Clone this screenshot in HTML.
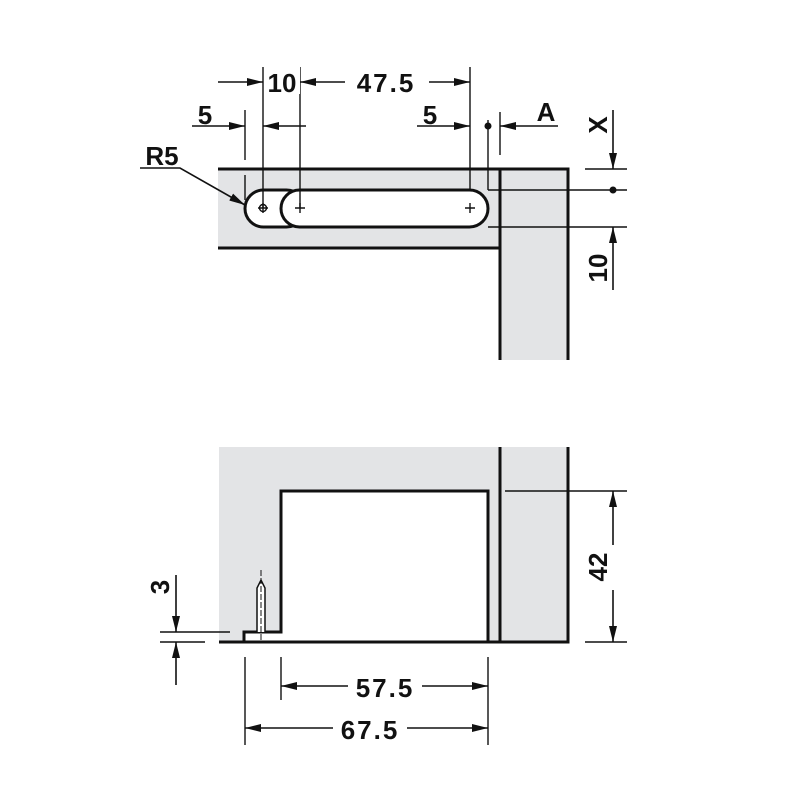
<!DOCTYPE html>
<html><head><style>html,body{margin:0;padding:0;background:#fff}</style></head><body>
<svg width="800" height="800" viewBox="0 0 800 800" xmlns="http://www.w3.org/2000/svg" font-family="Liberation Sans, sans-serif" font-weight="bold">
<defs>
<marker id="a" viewBox="0 0 16 8" refX="16" refY="4" markerWidth="16" markerHeight="8" markerUnits="userSpaceOnUse" orient="auto"><path d="M0,0L16,4L0,8z" fill="#111"/></marker>
</defs>
<g stroke="#111" fill="none">
<rect x="218" y="169" width="282" height="79" fill="#e3e4e6" stroke="none"/>
<rect x="500" y="169" width="68" height="191" fill="#e3e4e6" stroke="none"/>
<path d="M218,169H568V360M500,169V360M218,248H500" stroke-width="3"/>
<rect x="245" y="190" width="60" height="37" rx="18.5" fill="#fff" stroke-width="3"/>
<rect x="281" y="190" width="207" height="37" rx="18.5" fill="#fff" stroke-width="3"/>
<g stroke-width="1.4">
<path d="M263,67V208M300,67V208M470,67V190M245,110V160M245,175V200M488,120V190M500,112V155"/>
<path d="M488,190H627M488,227H627M585,169H627"/>
<path d="M258,208h10M263,203v10M295,208h10M300,203v10M465,208h10M470,203v10"/>
<circle cx="263" cy="208" r="3.5"/>
</g>
<circle cx="488" cy="126" r="3.5" fill="#111" stroke="none"/>
<circle cx="613" cy="190" r="3.5" fill="#111" stroke="none"/>
<g stroke-width="1.6">
<path d="M218,82H263" marker-end="url(#a)"/>
<path d="M345,82H300" marker-end="url(#a)"/>
<path d="M428,82H470" marker-end="url(#a)"/>
<path d="M192,126H245" marker-end="url(#a)"/>
<path d="M306,126H263" marker-end="url(#a)"/>
<path d="M417,126H470" marker-end="url(#a)"/>
<path d="M558,126H500" marker-end="url(#a)"/>
<path d="M613,110V169" marker-end="url(#a)"/>
<path d="M613,290V227" marker-end="url(#a)"/>
<path d="M140,168H180L245,205" marker-end="url(#a)"/>
</g>
<rect x="219" y="447" width="350" height="195" fill="#e3e4e6" stroke="none"/>
<path d="M281,491H488V642H281z" fill="#fff" stroke="none"/>
<rect x="244" y="632" width="38" height="10" fill="#fff" stroke="none"/>
<path d="M219,642H568V447M500,447V642M488,642V491H281V632H244V642" stroke-width="3"/>
<path d="M257,632V588L261,580L265,588V632" fill="#fff" stroke-width="1.5"/>
<path d="M261,570V642" stroke-width="1" stroke-dasharray="6,2"/>
<g stroke-width="1.4">
<path d="M505,491H627M585,642H627M160,632H230M160,642H205"/>
<path d="M281,657V700M488,657V745M245,657V745"/>
</g>
<g stroke-width="1.6">
<path d="M613,545V491" marker-end="url(#a)"/>
<path d="M613,590V642" marker-end="url(#a)"/>
<path d="M176,575V632" marker-end="url(#a)"/>
<path d="M176,685V642" marker-end="url(#a)"/>
<path d="M350,686H281" marker-end="url(#a)"/>
<path d="M420,686H488" marker-end="url(#a)"/>
<path d="M335,728H245" marker-end="url(#a)"/>
<path d="M405,728H488" marker-end="url(#a)"/>
</g>
</g>
<g font-size="26" fill="#111" text-anchor="middle">
<rect x="266" y="66" width="34" height="28" fill="#fff"/>
<text x="282" y="92">10</text>
<rect x="345" y="66" width="84" height="28" fill="#fff"/>
<text x="386" y="92" letter-spacing="2">47.5</text>
<text x="205" y="124">5</text>
<text x="430" y="124">5</text>
<text x="546" y="121">A</text>
<text x="162" y="165">R5</text>
<text transform="translate(607,125) rotate(-90)">X</text>
<text transform="translate(607,268) rotate(-90)">10</text>
<text transform="translate(607,567) rotate(-90)">42</text>
<text transform="translate(169,587) rotate(-90)">3</text>
<rect x="348" y="672" width="74" height="28" fill="#fff"/>
<text x="385" y="697" letter-spacing="2">57.5</text>
<rect x="333" y="714" width="74" height="28" fill="#fff"/>
<text x="370" y="739" letter-spacing="2">67.5</text>
</g>
</svg>
</body></html>
